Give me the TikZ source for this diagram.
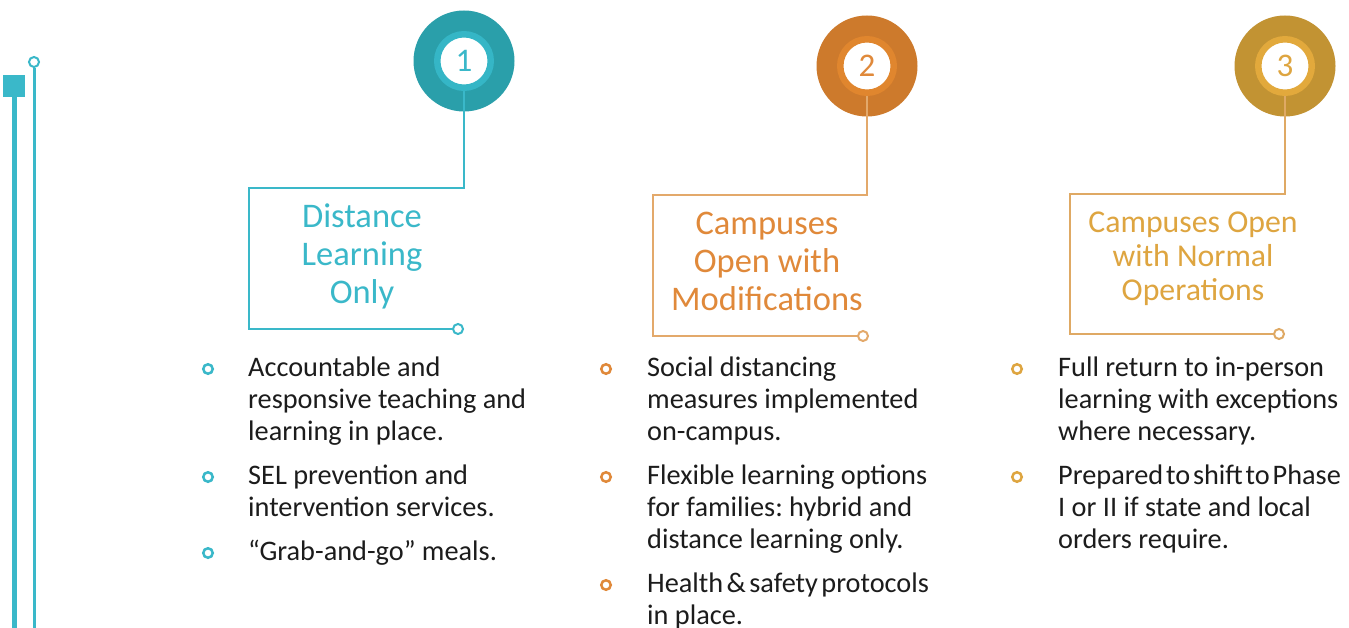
\documentclass[tikz,border=0pt]{standalone}
\usepackage{fontspec}
\setmainfont{Carlito}
\frenchspacing
\usetikzlibrary{positioning}
\definecolor{tealdark}{HTML}{2A9FAA}
\definecolor{tealring}{HTML}{35B6C6}
\definecolor{teallight}{HTML}{3AB8C9}
\definecolor{orangedark}{HTML}{CD7A2C}
\definecolor{orangering}{HTML}{E0862E}
\definecolor{orangetext}{HTML}{E0893A}
\definecolor{orangelight}{HTML}{E3A96B}
\definecolor{golddark}{HTML}{C29333}
\definecolor{goldring}{HTML}{E2A93C}
\definecolor{goldtext}{HTML}{DEA540}
\definecolor{goldlight}{HTML}{DFA964}
\definecolor{itemgray}{HTML}{1C1C1C}
\tikzset{
	outernode/.style={circle, minimum size=101pt, inner sep=0pt},
	ringnode/.style={circle, fill=white, line width=6.5pt, minimum size=53.5pt, inner sep=0pt, font=\fontsize{33}{33}\selectfont},
	phaseline/.style={line width=2pt},
	endnode/.style={circle, fill=white, line width=2pt, minimum size=10pt, inner sep=0pt},
	bulletnode/.style={circle, line width=2.5pt, minimum size=9.5pt, inner sep=0pt},
	itemtext/.style={anchor=base west, align=left, inner sep=0pt, text=itemgray, font=\fontsize{28.3}{32}\selectfont},
	titletext/.style={anchor=base, align=center, inner sep=0pt, font=\fontsize{34.5}{38}\selectfont}
}
\begin{document}
\begin{tikzpicture}[x=1pt, y=-1pt]
	\useasboundingbox[fill=white] (0,0) rectangle (1349,628);
	
	% left rails
	\node[rectangle, fill=teallight, minimum size=22pt, inner sep=0pt] at (14,86) (sq) {};
	\node[endnode, draw=teallight] at (34,62) (top) {};
	\coordinate (sqb) at (14,628);
	\coordinate (topb) at (34,628);
	\draw[line width=5pt, teallight] (sq.south) -- (sqb);
	\draw[line width=3pt, teallight] (top.south) -- (topb);
	
	% phase circles
	\node[outernode, fill=tealdark] at (464,61) (o1) {};
	\node[outernode, fill=orangedark] at (867,66) (o2) {};
	\node[outernode, fill=golddark] at (1285,66) (o3) {};
	
	\coordinate (k1) at (249,188);
	\coordinate (k2) at (653,195);
	\coordinate (k3) at (1070,194);
	\node[endnode, draw=teallight] at (458,329) (e1) {};
	\node[endnode, draw=orangelight] at (863,336) (e2) {};
	\node[endnode, draw=goldlight] at (1279,334) (e3) {};
	
	\draw[phaseline, teallight] (o1.center) |- (k1) |- (e1.west);
	\draw[phaseline, orangelight] (o2.center) |- (k2) |- (e2.west);
	\draw[phaseline, goldlight] (o3.center) |- (k3) |- (e3.west);
	
	\node[ringnode, draw=tealring, text=teallight] at (o1) (r1) {1};
	\node[ringnode, draw=orangering, text=orangetext] at (o2) (r2) {2};
	\node[ringnode, draw=goldring, text=goldtext] at (o3) (r3) {3};
	
	% titles (base = last line)
	\node[titletext, text=teallight] at (362,303) (h1) {Distance\\Learning\\Only};
	\node[titletext, text=orangetext] at (767,311) (h2) {Campuses\\Open with\\Modifications};
	\node[titletext, text=goldtext, font=\fontsize{31.8}{34}\selectfont] at (1193,301) (h3) {Campuses Open\\with Normal\\Operations};
	
	% phase 1 items
	\node[bulletnode, draw=teallight] at (208,369) (b11) {};
	\node[bulletnode, draw=teallight] at (208,477) (b12) {};
	\node[bulletnode, draw=teallight] at (208,553) (b13) {};
	\node[itemtext] at (248,440) (t11) {Accountable and\\responsive teaching and\\learning in place.};
	\node[itemtext] at (248,516) (t12) {SEL prevention and\\intervention services.};
	\node[itemtext] at (248,560) (t13) {“Grab-and-go” meals.};
	
	% phase 2 items
	\node[bulletnode, draw=orangetext] at (606,369) (b21) {};
	\node[bulletnode, draw=orangetext] at (606,477) (b22) {};
	\node[bulletnode, draw=orangetext] at (606,585) (b23) {};
	\node[itemtext] at (647,440) (t21) {Social distancing\\measures implemented\\on-campus.};
	\node[itemtext] at (647,548) (t22) {Flexible learning options\\for families: hybrid and\\distance learning only.};
	\node[itemtext] at (647,624) (t23) {{\spaceskip=0.12em Health \& safety protocols}\\in place.};
	
	% phase 3 items
	\node[bulletnode, draw=goldtext] at (1017,369) (b31) {};
	\node[bulletnode, draw=goldtext] at (1017,477) (b32) {};
	\node[itemtext] at (1058,440) (t31) {Full return to in-person\\learning with exceptions\\where necessary.};
	\node[itemtext] at (1058,548) (t32) {{\spaceskip=0.1em Prepared to shift to Phase}\\I or II if state and local\\orders require.};
\end{tikzpicture}
\end{document}
